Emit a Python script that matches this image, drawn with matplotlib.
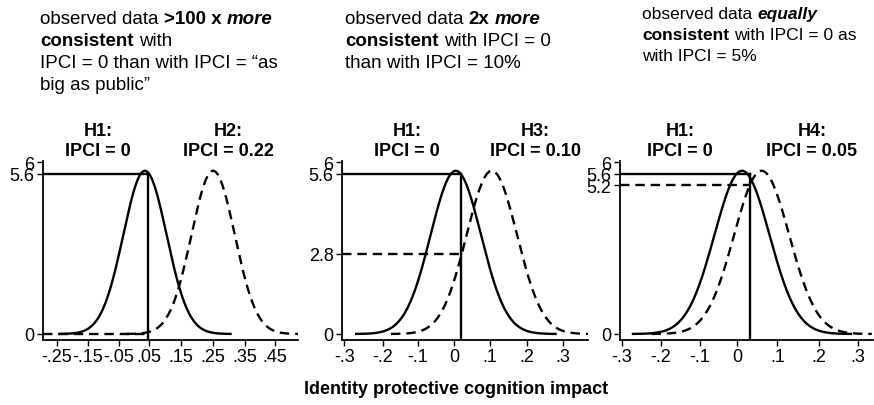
import numpy as np
import matplotlib
matplotlib.use('Agg')
import matplotlib.pyplot as plt

plt.rcParams['font.family'] = ['Liberation Sans', 'DejaVu Sans']

# hypotheses: H1 is always IPCI = 0, the alternative differs per panel
alt_names = ['H2:', 'H3:', 'H4:']
alt_labels = ['IPCI = 0.22', 'IPCI = 0.10', 'IPCI = 0.05']
h1_mean = 0.0
alt_means = [0.22, 0.10, 0.05]
sd = 0.07
observed = [0.01, 0.015, 0.02]
h1_at_obs = [5.6, 5.6, 5.6]
alt_at_obs = [0.0, 2.8, 5.2]

yticks = [[0, 5.6, 6], [0, 2.8, 5.6, 6], [0, 5.2, 5.6, 6]]
ytick_labels = [['0', '5.6', '6'], ['0', '2.8', '5.6', '6'], ['0', '5.2', '5.6', '6']]
xticks = [[-0.284, -0.184, -0.084, 0.013, 0.116, 0.219, 0.323, 0.42],
          [-0.31, -0.202, -0.105, -0.005, 0.095, 0.198, 0.298],
          [-0.305, -0.206, -0.107, -0.013, 0.09, 0.196, 0.295]]
xtick_labels = [['-.25', '-.15', '-.05', '.05', '.15', '.25', '.35', '.45'],
                ['-.3', '-.2', '-.1', '0', '.1', '.2', '.3'],
                ['-.3', '-.2', '-.1', '0', '.1', '.2', '.3']]
xlims = [(-0.329, 0.494), (-0.316, 0.367), (-0.31, 0.333)]

captions = [
    [[('observed data ', 'normal', 'normal'), ('>100 x ', 'bold', 'normal'), ('more', 'bold', 'italic')],
     [('consistent ', 'bold', 'normal'), ('with', 'normal', 'normal')],
     [('IPCI = 0 than with IPCI = \u201cas', 'normal', 'normal')],
     [('big as public\u201d', 'normal', 'normal')]],
    [[('observed data ', 'normal', 'normal'), ('2x ', 'bold', 'normal'), ('more', 'bold', 'italic')],
     [('consistent ', 'bold', 'normal'), ('with IPCI = 0', 'normal', 'normal')],
     [('than with IPCI = 10%', 'normal', 'normal')]],
    [[('observed data ', 'normal', 'normal'), ('equally', 'bold', 'italic')],
     [('consistent ', 'bold', 'normal'), ('with IPCI = 0 as', 'normal', 'normal')],
     [('with IPCI = 5%', 'normal', 'normal')]],
]

W, H = 874, 406
fig = plt.figure(figsize=(W / 100, H / 100), dpi=100)
renderer = fig.canvas.get_renderer()


def px(x, y):
    return x / W, 1 - y / H


def text_width(s, size, weight, style):
    t = fig.text(0, 0, s, fontsize=size, fontweight=weight, fontstyle=style)
    w = t.get_window_extent(renderer).width
    t.remove()
    return w


def rich_line(x, y, parts, size):
    # draw runs of differently styled text one after the other
    sp = text_width('a a', size, 'normal', 'normal') - text_width('aa', size, 'normal', 'normal')
    for s, weight, style in parts:
        word = s.rstrip(' ')
        t = fig.text(*px(x, y), word, fontsize=size, fontweight=weight,
                     fontstyle=style, va='baseline', ha='left')
        x += t.get_window_extent(renderer).width
        if s.endswith(' '):
            x += sp


def pdf(x, m):
    return np.exp(-(x - m) ** 2 / (2 * sd ** 2)) / (sd * np.sqrt(2 * np.pi))


boxes = [(43, 255), (342, 246), (620, 253)]
header_x = [(98, 228), (407, 535), (680, 812)]
caption_pos = [(40, 24, 22, 13.5), (345, 24, 22, 13.5), (642, 19, 21, 12.5)]

for i, (left, width) in enumerate(boxes):
    ax = fig.add_axes([left / W, 1 - 341 / H, width / W, (341 - 162) / H])
    ax.set_xlim(*xlims[i])
    ax.set_ylim(-0.21, 6.04)

    xs = np.linspace(h1_mean - 0.28, h1_mean + 0.28, 300)
    ax.plot(xs, pdf(xs, h1_mean), color='black', lw=1.7, solid_capstyle='butt')
    xa = np.linspace(alt_means[i] - 0.28, alt_means[i] + 0.28, 300)
    ax.plot(xa, pdf(xa, alt_means[i]), color='black', lw=1.7, ls=(0, (4, 2.5)))

    lo = xlims[i][0]
    ax.plot([lo, observed[i]], [h1_at_obs[i], h1_at_obs[i]], color='black', lw=1.7)
    ax.plot([lo, observed[i]], [alt_at_obs[i], alt_at_obs[i]], color='black', lw=1.7, ls=(0, (4, 2.5)))
    ax.plot([observed[i], observed[i]], [-0.21, h1_at_obs[i]], color='black', lw=1.7)

    ax.set_yticks(yticks[i])
    ax.set_yticklabels(ytick_labels[i])
    ax.set_xticks(xticks[i])
    ax.set_xticklabels(xtick_labels[i])
    ax.tick_params(direction='out', length=4, width=1, labelsize=13, pad=2, colors='black')
    for s in ['top', 'right']:
        ax.spines[s].set_visible(False)
    for s in ['left', 'bottom']:
        ax.spines[s].set_linewidth(1.3)

    hx1, hx2 = header_x[i]
    fig.text(*px(hx1, 123), 'H1:\nIPCI = 0', fontsize=13, fontweight='bold',
             ha='center', va='top', linespacing=1.25)
    fig.text(*px(hx2, 123), alt_names[i] + '\n' + alt_labels[i], fontsize=13,
             fontweight='bold', ha='center', va='top', linespacing=1.25)

    cx, cy, step, size = caption_pos[i]
    for k, line in enumerate(captions[i]):
        rich_line(cx, cy + k * step, line, size)

fig.text(*px(456, 390), 'Identity protective cognition impact', fontsize=13,
         fontweight='bold', ha='center', va='center')

fig.savefig('out.png', dpi=100)
